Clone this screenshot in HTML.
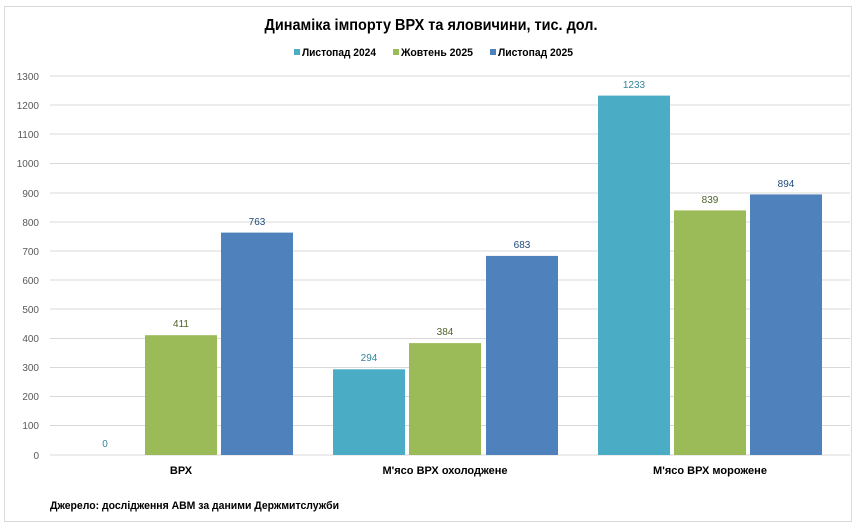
<!DOCTYPE html>
<html><head><meta charset="utf-8"><style>
body{margin:0;background:#fff;}
svg{display:block;font-family:"Liberation Sans Narrow","Liberation Sans",sans-serif;}
</style></head><body>
<svg width="863" height="529" xmlns="http://www.w3.org/2000/svg">
<rect x="4.5" y="6.5" width="847" height="515" fill="#fff" stroke="#d9d9d9"/>
<text x="431" y="30" text-anchor="middle" font-size="16" font-weight="bold" fill="#000" font-family="Liberation Sans, sans-serif" textLength="333" lengthAdjust="spacingAndGlyphs">Динаміка імпорту ВРХ та яловичини, тис. дол.</text>
<g font-size="11" font-weight="bold" fill="#000">
<rect x="294" y="49" width="6" height="6" fill="#4BACC6"/><text x="302" y="56" textLength="74" lengthAdjust="spacingAndGlyphs">Листопад 2024</text>
<rect x="393" y="49" width="6" height="6" fill="#9BBB59"/><text x="401" y="56" textLength="72" lengthAdjust="spacingAndGlyphs">Жовтень 2025</text>
<rect x="490" y="49" width="6" height="6" fill="#4F81BD"/><text x="498" y="56" textLength="75" lengthAdjust="spacingAndGlyphs">Листопад 2025</text>
</g>
<g stroke="#d9d9d9" stroke-width="1">
<line x1="50" x2="850" y1="76" y2="76"/><line x1="50" x2="850" y1="105" y2="105"/><line x1="50" x2="850" y1="134" y2="134"/><line x1="50" x2="850" y1="163.5" y2="163.5"/><line x1="50" x2="850" y1="193" y2="193"/><line x1="50" x2="850" y1="222" y2="222"/><line x1="50" x2="850" y1="251" y2="251"/><line x1="50" x2="850" y1="280" y2="280"/><line x1="50" x2="850" y1="309" y2="309"/><line x1="50" x2="850" y1="338.5" y2="338.5"/><line x1="50" x2="850" y1="367.5" y2="367.5"/><line x1="50" x2="850" y1="396.5" y2="396.5"/><line x1="50" x2="850" y1="425.5" y2="425.5"/><line x1="50" x2="850" y1="455" y2="455"/>
</g>
<g font-size="10" fill="#595959" text-anchor="end">
<text x="39" y="80">1300</text><text x="39" y="109">1200</text><text x="39" y="138">1100</text><text x="39" y="167">1000</text><text x="39" y="197">900</text><text x="39" y="226">800</text><text x="39" y="255">700</text><text x="39" y="284">600</text><text x="39" y="313">500</text><text x="39" y="342">400</text><text x="39" y="371">300</text><text x="39" y="400">200</text><text x="39" y="429">100</text><text x="39" y="459">0</text>
</g>
<rect x="145" y="335.2" width="72" height="119.8" fill="#9BBB59"/>
<rect x="221" y="232.6" width="72" height="222.4" fill="#4F81BD"/>
<rect x="333" y="369.3" width="72" height="85.7" fill="#4BACC6"/>
<rect x="409" y="343.1" width="72" height="111.9" fill="#9BBB59"/>
<rect x="486" y="255.9" width="72" height="199.1" fill="#4F81BD"/>
<rect x="598" y="95.6" width="72" height="359.4" fill="#4BACC6"/>
<rect x="674" y="210.4" width="72" height="244.6" fill="#9BBB59"/>
<rect x="750" y="194.4" width="72" height="260.6" fill="#4F81BD"/>
<g font-size="10" text-anchor="middle">
<text x="105" y="447" fill="#31859C">0</text>
<text x="181" y="327" fill="#4F6228">411</text>
<text x="257" y="225" fill="#1F497D">763</text>
<text x="369" y="361" fill="#31859C">294</text>
<text x="445" y="335" fill="#4F6228">384</text>
<text x="522" y="248" fill="#1F497D">683</text>
<text x="634" y="88" fill="#31859C">1233</text>
<text x="710" y="203" fill="#4F6228">839</text>
<text x="786" y="187" fill="#1F497D">894</text>
</g>
<g font-size="11" font-weight="bold" text-anchor="middle" fill="#000">
<text x="181" y="474">ВРХ</text>
<text x="445" y="474">М'ясо ВРХ охолоджене</text>
<text x="710" y="474">М'ясо ВРХ морожене</text>
</g>
<text x="50" y="509" font-size="11" font-weight="bold" fill="#000" textLength="289" lengthAdjust="spacingAndGlyphs">Джерело: дослідження АВМ за даними Держмитслужби</text>
</svg>
</body></html>
